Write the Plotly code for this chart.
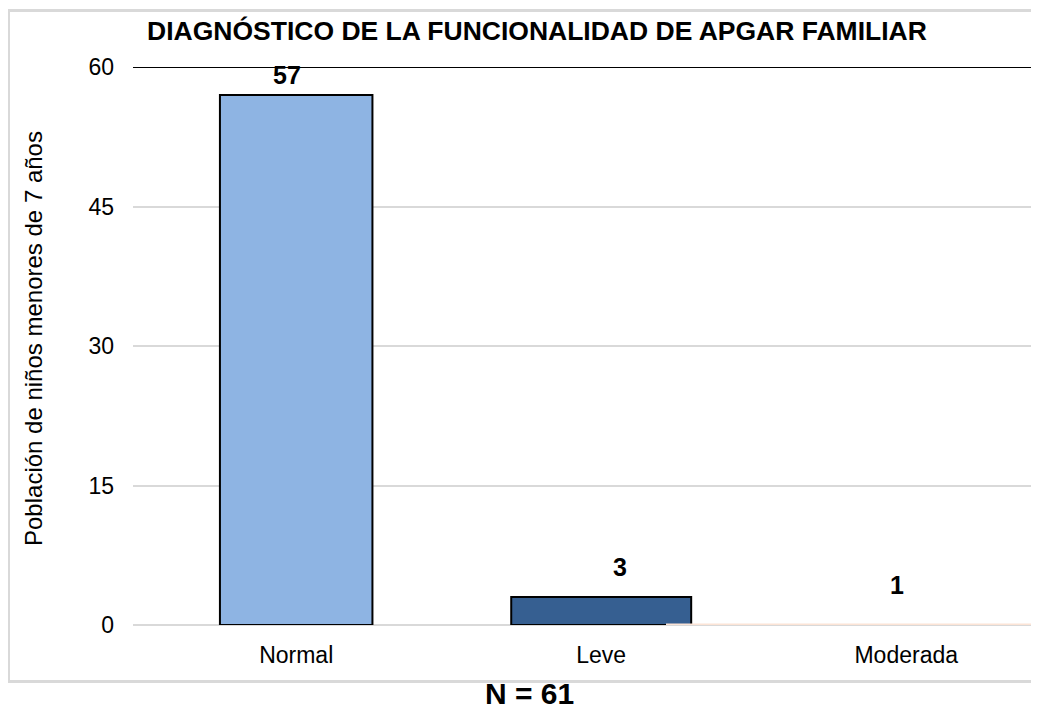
import plotly.graph_objects as go

categories = ["Normal", "Leve", "Moderada"]
values = [57, 3, 1]
tick_vals = [0, 15, 30, 45, 60]

# page body has an 8px margin, so figure coordinates = reference pixels - 8
OFF = 8
W, H = 1031, 705
L, R, T, B = 125, 1, 59, 88
pw, ph = W - L - R, H - T - B

def px_x(x):
    return (x - OFF - L) / pw

def px_y(y):
    return (H - B - (y - OFF)) / ph

fill_colors = ["#8EB4E3", "#365F91", "rgba(0,0,0,0)"]
line_colors = ["#000000", "#000000", "rgba(0,0,0,0)"]

fig = go.Figure()
fig.add_trace(go.Bar(
    x=categories, y=values,
    width=[0.5, 0.59, 0.5],
    marker=dict(color=fill_colors, line=dict(color=line_colors, width=2)),
    hoverinfo="skip",
))

yshifts = [20, 30, 31]
xshifts = [-9, 19, -9]
for c, v, ys, xs in zip(categories, values, yshifts, xshifts):
    fig.add_annotation(x=c, y=v, text=f"<b>{v}</b>", showarrow=False,
                       yshift=ys, xshift=xs, font=dict(size=25, color="#000000"))

shapes = []
# outer border
shapes.append(dict(type="rect", xref="paper", yref="paper",
                   x0=px_x(8.5), x1=px_x(1048), y0=px_y(681.5), y1=px_y(10.5),
                   line=dict(color="#D9D9D9", width=3), fillcolor="rgba(0,0,0,0)", layer="below"))
# top black line at 60
shapes.append(dict(type="line", xref="paper", yref="y", x0=0, x1=1, y0=60, y1=60,
                   line=dict(color="#000000", width=2)))
# peach baseline segment
shapes.append(dict(type="line", xref="paper", yref="y", x0=px_x(666), x1=px_x(1039), y0=0, y1=0,
                   line=dict(color="#FCE4D6", width=3)))

fig.update_layout(
    width=W, height=H,
    margin=dict(l=L, r=R, t=T, b=B),
    paper_bgcolor="white", plot_bgcolor="white",
    font=dict(family="Liberation Sans, Arial, sans-serif", color="#000000"),
    showlegend=False,
    shapes=shapes,
    title=dict(text="<b>DIAGNÓSTICO DE LA FUNCIONALIDAD DE APGAR FAMILIAR</b>",
               xref="container", yref="container",
               x=(537 - OFF) / W, xanchor="center", y=1 - (31 - OFF) / H, yanchor="middle",
               font=dict(size=26.5, color="#000000")),
    xaxis=dict(showgrid=False, showline=False, ticks="", tickfont=dict(size=23),
               zeroline=False, range=[-0.535, 2.432], ticklabelstandoff=14),
    yaxis=dict(range=[0, 60], tickvals=tick_vals, showgrid=True, gridcolor="#D9D9D9",
               gridwidth=2, zeroline=True, zerolinecolor="#D9D9D9", zerolinewidth=2,
               showline=False, tickfont=dict(size=23), ticks="", ticklabelstandoff=18),
)

fig.add_annotation(xref="paper", yref="paper", x=px_x(33), y=px_y(339),
                   xanchor="center", yanchor="middle",
                   text="Población de niños menores de 7 años", textangle=-90,
                   showarrow=False, font=dict(size=24, color="#000000"))

fig.add_annotation(xref="paper", yref="paper", x=px_x(529), y=px_y(694),
                   xanchor="center", yanchor="middle", text="<b>N = 61</b>",
                   showarrow=False, font=dict(size=30, color="#000000"), borderpad=0)

fig.write_html("out.html")
